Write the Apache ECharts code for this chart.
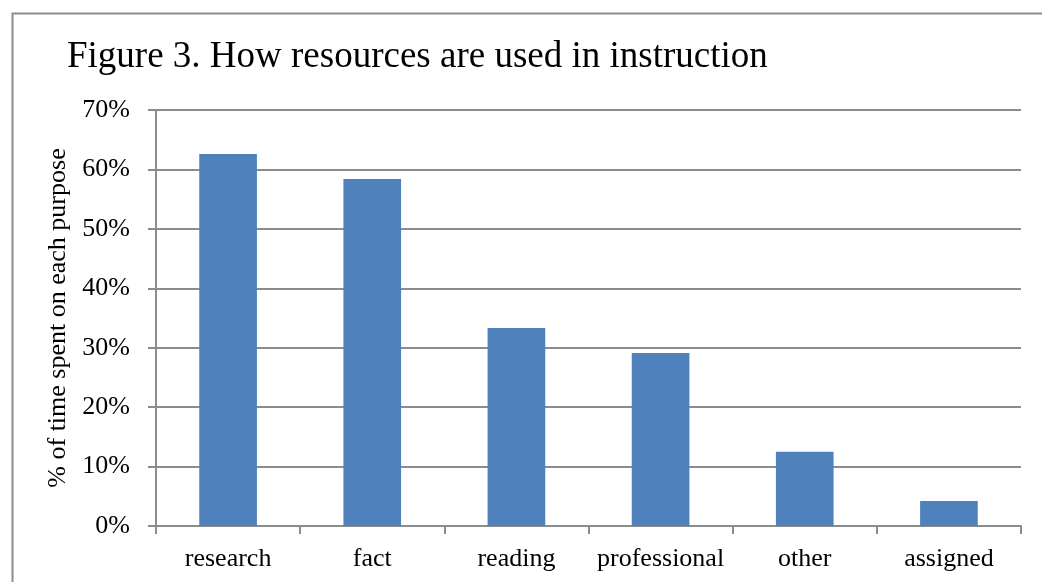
<!DOCTYPE html>
<html>
<head>
<meta charset="utf-8">
<style>html,body{margin:0;padding:0;background:#fff;}#chart{width:1042px;height:582px;}</style>
<script src="https://cdn.jsdelivr.net/npm/echarts@6/dist/echarts.min.js"></script>
</head>
<body>
<div id="chart"></div>
<script>
const categories = ['research', 'fact', 'reading', 'professional', 'other', 'assigned'];
const values = [0.626, 0.584, 0.333, 0.291, 0.125, 0.042];
const titleText = 'Figure 3. How resources are used in instruction';
const yAxisName = '% of time spent on each purpose';

const chart = echarts.init(document.getElementById('chart'));
const font = '"Liberation Serif", "Times New Roman", serif';
chart.setOption({
  animation: false,
  backgroundColor: '#fff',
  title: {
    text: titleText, left: 62, top: 34,
    textStyle: { fontFamily: font, fontSize: 37, fontWeight: 'normal', color: '#000' }
  },
  graphic: [{
    type: 'polyline',
    shape: { points: [[12.5, 600], [12.5, 13.5], [1060, 13.5]] },
    style: { stroke: '#8c8c8c', lineWidth: 2, fill: null }
  }],
  grid: { left: 156, right: 21, top: 110, bottom: 56, containLabel: false },
  xAxis: {
    type: 'category', data: categories,
    axisLine: { lineStyle: { color: '#8c8c8c', width: 2 } },
    axisTick: { show: true, length: 8, interval: 0, lineStyle: { color: '#8c8c8c', width: 2 } },
    axisLabel: { fontFamily: font, fontSize: 26, color: '#000', margin: 20, interval: 0 }
  },
  yAxis: {
    type: 'value', min: 0, max: 0.7, interval: 0.1,
    name: yAxisName, nameLocation: 'middle', nameGap: 78, nameRotate: 90,
    nameTextStyle: { fontFamily: font, fontSize: 26, color: '#000' },
    axisLine: { show: true, lineStyle: { color: '#8c8c8c', width: 2 } },
    axisTick: { show: true, length: 8, lineStyle: { color: '#8c8c8c', width: 2 } },
    splitLine: { show: true, lineStyle: { color: '#8c8c8c', width: 2 } },
    axisLabel: {
      fontFamily: font, fontSize: 26, color: '#000', margin: 26,
      formatter: v => Math.round(v * 100) + '%'
    }
  },
  series: [{
    type: 'bar', data: values, barCategoryGap: '60%',
    itemStyle: { color: '#4f81bd' }
  }]
});
</script>
</body>
</html>
